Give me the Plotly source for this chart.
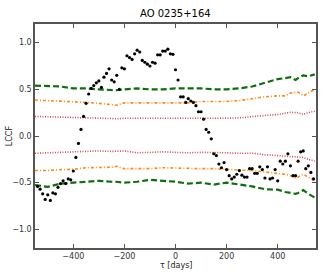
import plotly.graph_objects as go

# LCCF data points (tau in days)
tau = list(range(-540, 550, 10))
lccf = [
    -0.54, -0.57, -0.62, -0.68, -0.63, -0.69, -0.61, -0.62, -0.55, -0.51,
    -0.48, -0.51, -0.46, -0.47, -0.375, -0.23, -0.08, 0.07, 0.21, 0.35,
    0.45, 0.51, 0.54, 0.57, 0.59, 0.52, 0.63, 0.67, 0.72, 0.60,
    0.58, 0.65, 0.50, 0.73, 0.72, 0.86, 0.84, 0.82, 0.88, 0.92,
    0.90, 0.81, 0.79, 0.77, 0.75, 0.79, 0.78, 0.87, 0.87, 0.91,
    0.91, 0.93, 0.88, 0.875, 0.71, 0.60, 0.42, 0.42, 0.36, 0.40,
    0.375, 0.36, 0.325, 0.26, 0.26, 0.18, 0.07, 0.04, -0.03, -0.19,
    -0.21, -0.30, -0.34, -0.285, -0.36, -0.425, -0.46, -0.44, -0.41, -0.37,
    -0.42, -0.44, -0.44, -0.35, -0.35, -0.40, -0.40, -0.33, -0.36, -0.45,
    -0.33, -0.46, -0.45, -0.36, -0.48, -0.27, -0.30, -0.27, -0.19, -0.32,
    -0.425, -0.425, -0.27, -0.17, -0.16, -0.35, -0.32, -0.39, -0.46,
]

# Significance levels
tau_band = [-550, -500, -450, -400, -350, -300, -250, -230, -200, -150, -100, -50, 0,
            50, 100, 150, 200, 250, 300, 350, 400, 430, 450, 470, 480, 500, 520, 545]
green_up = [0.54, 0.535, 0.53, 0.51, 0.51, 0.50, 0.49, 0.49, 0.50, 0.51, 0.50, 0.50, 0.51,
            0.51, 0.51, 0.50, 0.50, 0.51, 0.53, 0.57, 0.61, 0.62, 0.63, 0.60, 0.62, 0.65, 0.64, 0.66]
green_lo = [-0.525, -0.545, -0.51, -0.50, -0.49, -0.48, -0.49, -0.49, -0.50, -0.49, -0.47, -0.48, -0.49,
            -0.51, -0.50, -0.52, -0.50, -0.52, -0.54, -0.57, -0.575, -0.60, -0.61, -0.62, -0.61, -0.58, -0.62, -0.66]
orange_up = [0.385, 0.38, 0.375, 0.37, 0.36, 0.35, 0.34, 0.33, 0.355, 0.355, 0.355, 0.35, 0.355,
             0.355, 0.37, 0.37, 0.37, 0.38, 0.40, 0.42, 0.43, 0.43, 0.46, 0.47, 0.47, 0.43, 0.46, 0.50]
orange_lo = [-0.37, -0.37, -0.36, -0.357, -0.34, -0.34, -0.335, -0.325, -0.35, -0.35, -0.35, -0.34, -0.345,
             -0.35, -0.35, -0.35, -0.36, -0.365, -0.37, -0.385, -0.40, -0.41, -0.425, -0.45, -0.44, -0.41, -0.44, -0.48]
red_up = [0.21, 0.205, 0.20, 0.195, 0.19, 0.19, 0.185, 0.185, 0.19, 0.19, 0.19, 0.19, 0.19,
          0.185, 0.19, 0.19, 0.19, 0.195, 0.21, 0.22, 0.23, 0.24, 0.254, 0.25, 0.25, 0.23, 0.25, 0.265]
red_lo = [-0.185, -0.18, -0.18, -0.175, -0.17, -0.16, -0.165, -0.16, -0.16, -0.18, -0.175, -0.17, -0.175,
          -0.18, -0.175, -0.175, -0.18, -0.185, -0.185, -0.20, -0.21, -0.215, -0.22, -0.22, -0.22, -0.23, -0.25, -0.27]

x_ticks = [-400, -200, 0, 200, 400]
y_ticks = [-1.0, -0.5, 0.0, 0.5, 1.0]

GREEN = "#0e6e0e"
ORANGE = "#ff8a1c"
RED = "#cf4a55"

fig = go.Figure()
for ys, col, dash, w in [
    (green_up, GREEN, "6px,3px", 2.2), (green_lo, GREEN, "6px,3px", 2.2),
    (orange_up, ORANGE, "3px,2px,1px,2px", 1.6), (orange_lo, ORANGE, "3px,2px,1px,2px", 1.6),
    (red_up, RED, "1px,1.5px", 1.6), (red_lo, RED, "1px,1.5px", 1.6),
]:
    fig.add_trace(go.Scatter(x=tau_band, y=ys, mode="lines",
                             line=dict(color=col, dash=dash, width=w),
                             hoverinfo="skip", showlegend=False))

fig.add_trace(go.Scatter(x=tau, y=lccf, mode="markers",
                         marker=dict(color="black", size=3.2, symbol="circle"),
                         showlegend=False))

axis_common = dict(showgrid=False, zeroline=False, showline=True, linecolor="#555555",
                   linewidth=1.5, mirror="ticks", ticks="inside", ticklen=4, tickwidth=1,
                   tickcolor="#555555", tickfont=dict(family="DejaVu Sans", size=8, color="#333333"))

fig.update_layout(
    width=334, height=276,
    margin=dict(l=27, r=18, t=24, b=28),
    paper_bgcolor="white", plot_bgcolor="white",
    xaxis=dict(range=[-550, 550], tickvals=x_ticks, **axis_common),
    yaxis=dict(range=[-1.2, 1.2], tickvals=y_ticks, tickformat=".1f", **axis_common),
    annotations=[
        dict(text="AO 0235+164", xref="paper", yref="paper", x=0.5, y=1 + 10 / 224,
             xanchor="center", yanchor="middle", showarrow=False,
             font=dict(family="DejaVu Sans", size=10, color="black")),
        dict(text="τ [days]", xref="paper", yref="paper", x=0.5, y=-17 / 224,
             xanchor="center", yanchor="middle", showarrow=False,
             font=dict(family="DejaVu Sans", size=8, color="#222222")),
        dict(text="LCCF", xref="paper", yref="paper", x=-27 / 289, y=0.5,
             xanchor="left", yanchor="middle", showarrow=False, textangle=-90, xshift=-6,
             font=dict(family="DejaVu Sans", size=8, color="#222222")),
    ],
)

fig.write_html("out.html", config={"displayModeBar": False},
               post_script="document.body.style.margin='0';document.body.style.overflow='hidden';")
